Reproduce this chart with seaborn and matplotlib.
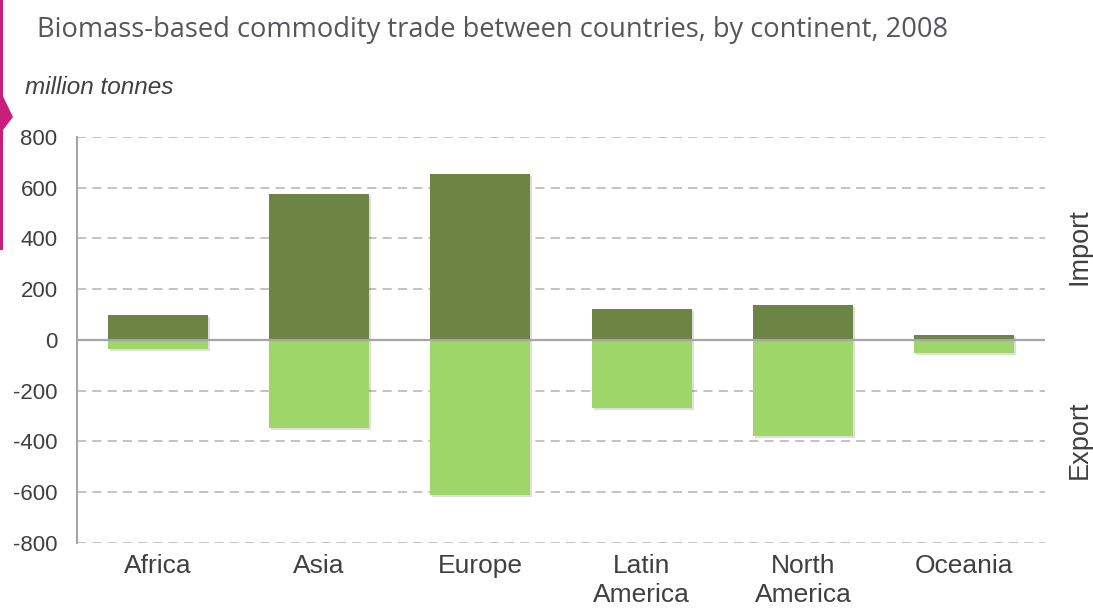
import matplotlib
matplotlib.use("Agg")
import matplotlib.pyplot as plt
import matplotlib.patheffects as pe
from matplotlib.patches import Polygon, Rectangle
import seaborn as sns
import pandas as pd

# Biomass-based commodity trade, million tonnes, 2008
continents = ["Africa", "Asia", "Europe", "Latin\nAmerica", "North\nAmerica", "Oceania"]
imports = [98, 575, 654, 122, 138, 20]
exports = [-35, -347, -611, -268, -378, -52]

y_ticks = [800, 600, 400, 200, 0, -200, -400, -600, -800]

sns.set_theme(style="white")
plt.rcParams["font.family"] = ["Liberation Sans", "DejaVu Sans"]

dark_green = "#6c8444"
light_green = "#9ed66a"
grid_grey = "#b3b3b3"
text_grey = "#404040"

df = pd.DataFrame({"continent": continents, "import": imports, "export": exports})

fig = plt.figure(figsize=(10.93, 6.08), dpi=100)
ax = fig.add_axes([0.0705, 0.1069, 0.8855, 0.6678])

shadow = [pe.SimplePatchShadow(offset=(1.5, -1.5), shadow_rgbFace="#000000", alpha=0.13), pe.Normal()]

sns.barplot(data=df, x="continent", y="import", color=dark_green, width=0.62,
            saturation=1, ax=ax, zorder=3)
sns.barplot(data=df, x="continent", y="export", color=light_green, width=0.62,
            saturation=1, ax=ax, zorder=3)
for p in ax.patches:
    p.set_path_effects(shadow)
    p.set_edgecolor("none")

ax.set_ylim(-800, 800)
ax.set_xlim(-0.5, len(continents) - 0.5)
ax.set_yticks(y_ticks)
ax.set_yticklabels([str(v) for v in y_ticks])
ax.set_xlabel("")
ax.set_ylabel("")

# dashed grid, solid zero line
for v in y_ticks:
    if v == 0:
        ax.axhline(0, color="#a6a6a6", lw=1.6, zorder=4)
    else:
        ax.axhline(v, color=grid_grey, lw=1.1, ls=(0, (6, 4)), zorder=1)

for s in ["top", "right", "bottom"]:
    ax.spines[s].set_visible(False)
ax.spines["left"].set_color("#a6a6a6")
ax.spines["left"].set_linewidth(1.5)

ax.tick_params(axis="y", length=0, pad=14, labelsize=16, labelcolor=text_grey)
ax.tick_params(axis="x", length=0, pad=8, labelsize=19, labelcolor=text_grey)
for lbl in ax.get_xticklabels():
    lbl.set_linespacing(1.25)
    lbl.set_verticalalignment("top")

# side labels
ax.text(1.036, 0.73, "Import", transform=ax.transAxes, rotation=90,
        ha="center", va="center", fontsize=19.5, color=text_grey)
ax.text(1.036, 0.255, "Export", transform=ax.transAxes, rotation=90,
        ha="center", va="center", fontsize=19.5, color=text_grey)

# title and unit
fig.text(37 / 1093, 1 - 30 / 608, "Biomass-based commodity trade between countries, by continent, 2008",
         ha="left", va="center", fontsize=19.6, color="#555560",
         family=["Open Sans", "DejaVu Sans"])
fig.text(25 / 1093, 1 - 88 / 608, "million tonnes", ha="left", va="center",
         fontsize=17.5, style="italic", color=text_grey)

# magenta edge marker
magenta = "#c8207a"
fig.add_artist(Rectangle((0, 1 - 250 / 608), 2.5 / 1093, 250 / 608,
                         transform=fig.transFigure, color=magenta, lw=0))
fig.add_artist(Polygon([(0, 1 - 90 / 608), (0, 1 - 134 / 608), (13 / 1093, 1 - 117 / 608),
                        (0, 1 - 90 / 608)], closed=True, transform=fig.transFigure,
                       color=magenta, lw=0))

fig.savefig("out.png", dpi=100)
